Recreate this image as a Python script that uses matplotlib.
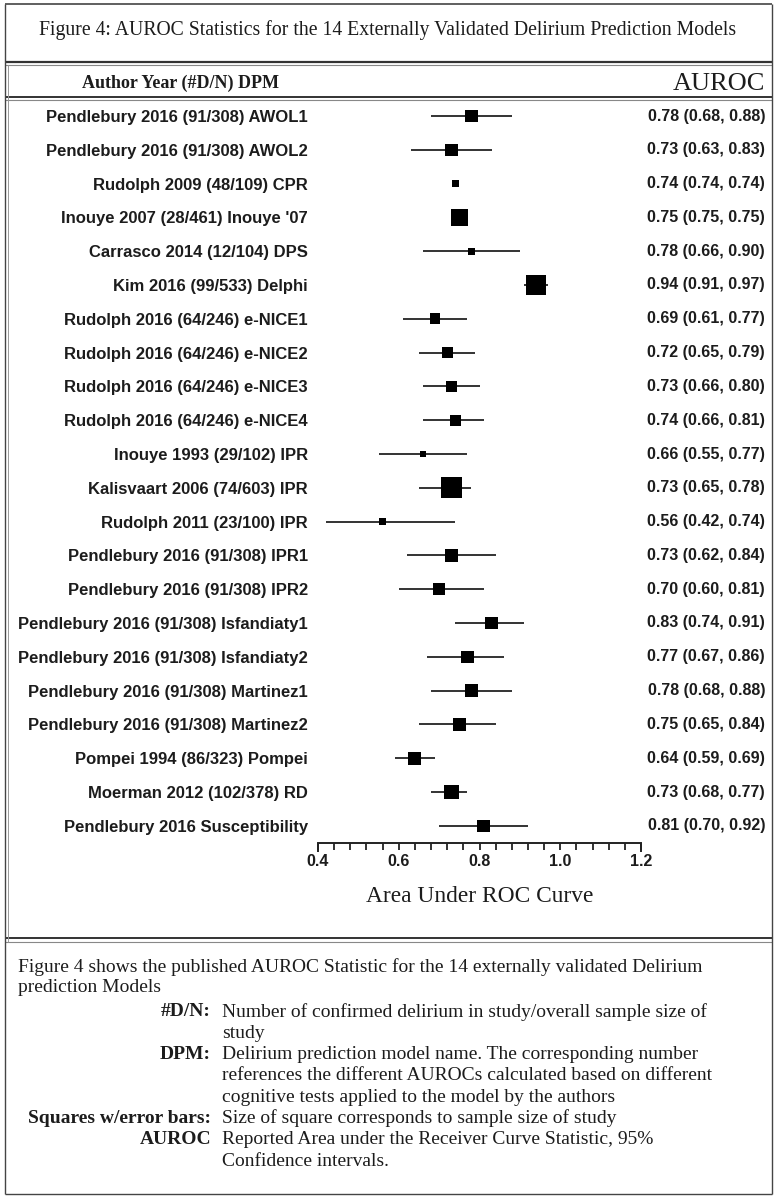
import numpy as np
import matplotlib
matplotlib.use("Agg")
import matplotlib.pyplot as plt
from matplotlib.transforms import blended_transform_factory

# study rows, top to bottom
labels = [
    "Pendlebury 2016 (91/308) AWOL1",
    "Pendlebury 2016 (91/308) AWOL2",
    "Rudolph 2009 (48/109) CPR",
    "Inouye 2007 (28/461) Inouye '07",
    "Carrasco 2014 (12/104) DPS",
    "Kim 2016 (99/533) Delphi",
    "Rudolph 2016 (64/246) e-NICE1",
    "Rudolph 2016 (64/246) e-NICE2",
    "Rudolph 2016 (64/246) e-NICE3",
    "Rudolph 2016 (64/246) e-NICE4",
    "Inouye 1993 (29/102) IPR",
    "Kalisvaart 2006 (74/603) IPR",
    "Rudolph 2011 (23/100) IPR",
    "Pendlebury 2016 (91/308) IPR1",
    "Pendlebury 2016 (91/308) IPR2",
    "Pendlebury 2016 (91/308) Isfandiaty1",
    "Pendlebury 2016 (91/308) Isfandiaty2",
    "Pendlebury 2016 (91/308) Martinez1",
    "Pendlebury 2016 (91/308) Martinez2",
    "Pompei 1994 (86/323) Pompei",
    "Moerman 2012 (102/378) RD",
    "Pendlebury 2016 Susceptibility",
]
auroc = [0.78, 0.73, 0.74, 0.75, 0.78, 0.94, 0.69, 0.72, 0.73, 0.74, 0.66,
         0.73, 0.56, 0.73, 0.70, 0.83, 0.77, 0.78, 0.75, 0.64, 0.73, 0.81]
ci_low = [0.68, 0.63, 0.74, 0.75, 0.66, 0.91, 0.61, 0.65, 0.66, 0.66, 0.55,
          0.65, 0.42, 0.62, 0.60, 0.74, 0.67, 0.68, 0.65, 0.59, 0.68, 0.70]
ci_high = [0.88, 0.83, 0.74, 0.75, 0.90, 0.97, 0.77, 0.79, 0.80, 0.81, 0.77,
           0.78, 0.74, 0.84, 0.81, 0.91, 0.86, 0.88, 0.84, 0.69, 0.77, 0.92]
sample_n = [308, 308, 109, 461, 104, 533, 246, 246, 246, 246, 102,
            603, 100, 308, 308, 308, 308, 308, 308, 323, 378, 308]

W, H = 775, 1196
DPI = 100
SANS = "Liberation Sans"
SERIF = "Liberation Serif"
INK = "#1c1c1c"

fig = plt.figure(figsize=(W / DPI, H / DPI), dpi=DPI)

# page-level axes in pixel units for frames and captions
pg = fig.add_axes([0, 0, 1, 1])
pg.set_xlim(0, W)
pg.set_ylim(H, 0)
pg.axis("off")


def hline(y, x0=5, x1=772, lw=1.0, c="#444444"):
    pg.plot([x0, x1], [y, y], color=c, lw=lw, solid_capstyle="butt")


def vline(x, y0, y1, lw=1.0, c="#444444"):
    pg.plot([x, x], [y0, y1], color=c, lw=lw, solid_capstyle="butt")


# frames
hline(4, lw=1.2)
hline(61.5, lw=1.6, c="#333333")
hline(64.5, lw=0.8, c="#888888")
hline(97, lw=1.4, c="#333333")
hline(100, lw=0.8, c="#888888")
hline(938, lw=1.4, c="#333333")
hline(941.5, lw=0.8, c="#888888")
hline(1194, lw=1.0)
vline(5, 4, 1194, lw=1.0)
vline(8, 64.5, 941.5, lw=0.7, c="#999999")
vline(771.5, 4, 1194, lw=1.0)

pg.text(388, 30, "Figure 4: AUROC Statistics for the 14 Externally Validated Delirium Prediction Models",
        family=SERIF, fontsize=14.2, color=INK, ha="center", va="center")
pg.text(82, 83, "Author Year (#D/N) DPM", family=SERIF, fontsize=13,
        fontweight="bold", color=INK, ha="left", va="center")
pg.text(765, 84, "AUROC", family=SERIF, fontsize=19, color=INK, ha="right", va="center")

# footer notes
foot = dict(family=SERIF, fontsize=14, color=INK, va="center")
pg.text(18, 967, "Figure 4 shows the published AUROC Statistic for the 14 externally validated Delirium", ha="left", **foot)
pg.text(18, 988, "prediction Models", ha="left", **foot)
notes = [
    ("#D/N:", ["Number of confirmed delirium in study/overall sample size of", "study"]),
    ("DPM:", ["Delirium prediction model name. The corresponding number",
              "references the different AUROCs calculated based on different",
              "cognitive tests applied to the model by the authors"]),
    ("Squares w/error bars:", ["Size of square corresponds to sample size of study"]),
    ("AUROC", ["Reported Area under the Receiver Curve Statistic, 95%", "Confidence intervals."]),
]
y = 1012
for key, lines in notes:
    pg.text(211, y, key, ha="right", fontweight="bold", **foot)
    for ln in lines:
        pg.text(222, y, ln, ha="left", **foot)
        y += 21.3

# forest plot axes: 0.4 -> x=318px, 1.2 -> x=641px, axis line at y=843px
x0, x1 = 318, 641
ytop, ybot = 100, 843
row0, dy = 116, 33.8
n = len(labels)
ax = fig.add_axes([x0 / W, 1 - ybot / H, (x1 - x0) / W, (ybot - ytop) / H])
ax.patch.set_alpha(0)
ax.set_xlim(0.4, 1.2)
ax.set_ylim((ybot - row0) / dy, (ytop - row0) / dy)

rows = np.arange(n)
ax.hlines(rows, ci_low, ci_high, color="#333333", lw=1.4)
side_px = 3.6 + 0.029 * np.array(sample_n)
ax.scatter(auroc, rows, marker="s", s=(side_px * 72 / DPI) ** 2, color="black",
           edgecolors="none", zorder=3)

for s in ["top", "left", "right"]:
    ax.spines[s].set_visible(False)
ax.spines["bottom"].set_linewidth(1.4)
ax.spines["bottom"].set_color("#222222")

ax.set_xticks([0.4, 0.6, 0.8, 1.0, 1.2])
ax.set_xticklabels(["0.4", "0.6", "0.8", "1.0", "1.2"], family=SANS,
                   fontweight="bold", fontsize=11.5, color=INK)
ax.set_xticks(np.arange(0.44, 1.2, 0.04), minor=True)
ax.tick_params(axis="x", which="both", direction="out", length=5, width=1.3,
               color="#222222", pad=3)
ybase = (ybot - row0) / dy
ax.vlines([0.4, 1.2], ybase, ybase + 9 / dy, color="#222222", lw=1.4, clip_on=False)

ax.set_yticks(rows)
ax.set_yticklabels(labels, family=SANS, fontweight="bold", fontsize=12, color=INK)
ax.tick_params(axis="y", length=0, pad=10 * 72 / DPI)

ax.set_xlabel("Area Under ROC Curve", family=SERIF, fontsize=16.8, color=INK, labelpad=12)

# stated values on the right
tr = blended_transform_factory(fig.transFigure, ax.transData)
for i in range(n):
    ax.text(765 / W, i, f"{auroc[i]:.2f} ({ci_low[i]:.2f}, {ci_high[i]:.2f})",
            transform=tr, ha="right", va="center", family=SANS, fontweight="bold",
            fontsize=11.5, color=INK)

fig.savefig("out.png", dpi=DPI)
